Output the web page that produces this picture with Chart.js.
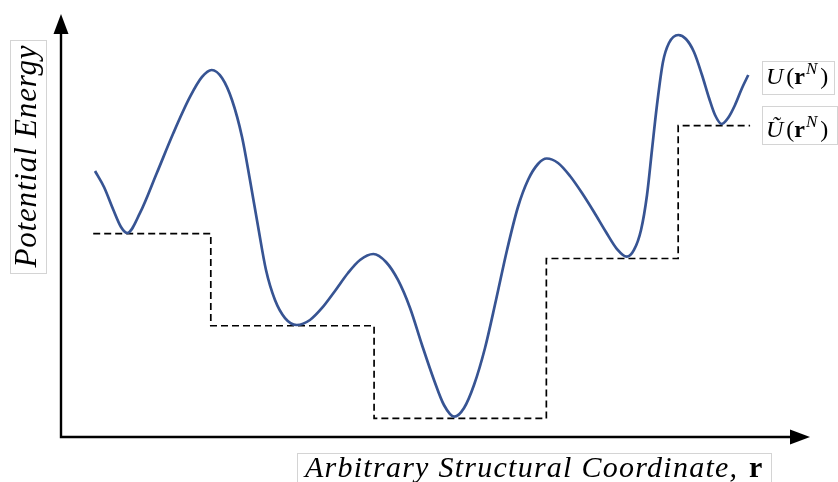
<!DOCTYPE html>
<html>
<head>
<meta charset="utf-8">
<script src="https://cdn.jsdelivr.net/npm/chart.js@4/dist/chart.umd.min.js"></script>
<style>
  html, body { margin: 0; padding: 0; background: #ffffff; }
  #wrap { width: 838px; height: 482px; }
</style>
</head>
<body>
<div id="wrap"><canvas id="pes" width="838" height="482"></canvas></div>
<script>
// Potential energy U(r^N) along an arbitrary structural coordinate
const curveX = [0.454, 0.574, 0.694, 0.801, 0.885,
                1.055, 1.278, 1.499, 1.722, 1.883, 2.012,
                2.150, 2.283, 2.417, 2.523, 2.630, 2.737, 2.857, 2.991, 3.147,
                3.324, 3.485, 3.658, 3.832, 3.992, 4.170,
                4.339, 4.499, 4.660, 4.820, 4.980, 5.113, 5.251,
                5.381, 5.514, 5.661, 5.808, 5.955, 6.101, 6.235, 6.368, 6.485,
                6.636, 6.796, 6.956, 7.116, 7.276, 7.423, 7.553,
                7.650, 7.744, 7.824, 7.890, 7.957, 8.037, 8.117, 8.242,
                8.344, 8.451, 8.558, 8.652, 8.732, 8.821,
                8.906, 8.999, 9.093, 9.176];
const curveY = [6.288, 5.910, 5.390, 4.965, 4.823,
                5.296, 6.234, 7.180, 8.038, 8.511, 8.676,
                8.487, 7.967, 7.092, 6.076, 4.988, 3.948, 3.239, 2.813, 2.648,
                2.766, 3.050, 3.452, 3.877, 4.184, 4.326,
                4.137, 3.712, 3.050, 2.175, 1.348, 0.757, 0.480,
                0.686, 1.229, 2.104, 3.239, 4.421, 5.437, 6.076, 6.454, 6.584,
                6.478, 6.170, 5.768, 5.319, 4.846, 4.444, 4.262,
                4.421, 4.894, 5.721, 6.785, 7.849, 8.865, 9.314, 9.504,
                9.409, 9.102, 8.558, 8.014, 7.612, 7.400,
                7.541, 7.849, 8.251, 8.558];

// Coarse-grained landscape: each basin flattened to its minimum energy
const stepX = [0.43, 2.00, 4.18, 6.48, 8.24, 9.20];
const stepY = [4.81, 2.63, 0.44, 4.22, 7.36, 7.36];

const axisMax = { x: 10, y: 10 };
const xTitle = 'Arbitrary Structural Coordinate,';
const xTitleVector = 'r';
const yTitle = 'Potential Energy';

const SERIF = '"Liberation Serif", "DejaVu Serif", serif';
const BOX = '#d4d4d4';

function pts(xs, ys) { return xs.map((x, i) => ({ x: x, y: ys[i] })); }

// Draw text with letter spacing adjusted so it spans a given width
function spacedText(ctx, text, x, y, width) {
  ctx.letterSpacing = '0px';
  const w = ctx.measureText(text).width;
  const sp = (width - w) / Math.max(1, text.length - 1);
  ctx.letterSpacing = sp.toFixed(2) + 'px';
  ctx.fillText(text, x, y);
  ctx.letterSpacing = '0px';
}

// Math-style label: U(r^N) with optional tilde on U
function mathLabel(ctx, x, y, size, tilde) {
  const parts = [
    { t: tilde ? 'Ũ' : 'U', f: 'italic ' + size + 'px ' + SERIF, dy: 0, gap: 3 },
    { t: '(', f: size + 'px ' + SERIF, dy: 0, gap: 0 },
    { t: 'r', f: 'bold ' + size + 'px ' + SERIF, dy: 0, gap: 1 },
    { t: 'N', f: 'italic ' + Math.round(size * 0.7) + 'px ' + SERIF, dy: -size * 0.42, gap: 3 },
    { t: ')', f: size + 'px ' + SERIF, dy: 0, gap: 0 }
  ];
  let cx = x;
  ctx.textBaseline = 'alphabetic';
  ctx.textAlign = 'left';
  parts.forEach(p => {
    ctx.font = p.f;
    ctx.fillText(p.t, cx, y + p.dy);
    cx += ctx.measureText(p.t).width + p.gap;
  });
  return cx - x;
}

const decorations = {
  id: 'decorations',
  beforeDatasetsDraw(chart) {
    const ctx = chart.ctx;
    const xs = chart.scales.x, ys = chart.scales.y;
    const ox = xs.getPixelForValue(0), oy = ys.getPixelForValue(0);
    const tx = xs.getPixelForValue(axisMax.x), ty = ys.getPixelForValue(axisMax.y);
    ctx.save();
    ctx.strokeStyle = '#000';
    ctx.fillStyle = '#000';
    ctx.lineWidth = 2.4;
    ctx.lineCap = 'butt';
    ctx.beginPath();
    ctx.moveTo(ox, ty + 16);
    ctx.lineTo(ox, oy);
    ctx.lineTo(tx - 16, oy);
    ctx.stroke();
    // arrow heads
    ctx.beginPath();
    ctx.moveTo(ox, ty);
    ctx.lineTo(ox - 7.5, ty + 20);
    ctx.lineTo(ox + 7.5, ty + 20);
    ctx.closePath();
    ctx.fill();
    ctx.beginPath();
    ctx.moveTo(tx, oy);
    ctx.lineTo(tx - 20, oy - 7.5);
    ctx.lineTo(tx - 20, oy + 7.5);
    ctx.closePath();
    ctx.fill();
    ctx.restore();
  },
  afterDraw(chart) {
    const ctx = chart.ctx;
    const xs = chart.scales.x, ys = chart.scales.y;
    ctx.save();
    ctx.fillStyle = '#000';
    ctx.strokeStyle = BOX;
    ctx.lineWidth = 1;

    // y-axis title
    ctx.strokeRect(10.5, 40.5, 36, 233);
    ctx.save();
    ctx.translate(36, 156.5);
    ctx.rotate(-Math.PI / 2);
    ctx.font = 'italic 31px ' + SERIF;
    ctx.textAlign = 'left';
    ctx.textBaseline = 'alphabetic';
    spacedText(ctx, yTitle, -111, 0, 222);
    ctx.restore();

    // x-axis title
    ctx.strokeRect(297.5, 453.5, 474, 40);
    ctx.font = 'italic 30px ' + SERIF;
    ctx.textAlign = 'left';
    ctx.textBaseline = 'alphabetic';
    spacedText(ctx, xTitle, 305, 477, 432);
    ctx.font = 'bold 30px ' + SERIF;
    ctx.fillText(xTitleVector, 749, 477);

    // series labels at the ends of the two lines
    const endU = { x: xs.getPixelForValue(curveX[curveX.length - 1]), y: ys.getPixelForValue(curveY[curveY.length - 1]) };
    const endS = { x: xs.getPixelForValue(stepX[stepX.length - 1]), y: ys.getPixelForValue(stepY[stepY.length - 1]) };
    const lx = Math.round(endS.x) + 12;
    ctx.strokeRect(lx + 0.5, Math.round(endU.y) - 13.5, 72, 33);
    mathLabel(ctx, lx + 4, endU.y + 9, 24, false);
    ctx.strokeRect(lx + 0.5, Math.round(endS.y) - 19.5, 75, 38);
    mathLabel(ctx, lx + 4, endS.y + 11, 24, true);
    ctx.restore();
  }
};

new Chart(document.getElementById('pes'), {
  type: 'line',
  data: {
    datasets: [
      {
        label: 'U(r^N)',
        data: pts(curveX, curveY),
        borderColor: '#375493',
        borderWidth: 2.7,
        pointRadius: 0,
        cubicInterpolationMode: 'monotone',
        fill: false
      },
      {
        label: 'Ũ(r^N)',
        data: pts(stepX, stepY),
        borderColor: '#000000',
        borderWidth: 1.7,
        borderDash: [7, 4],
        pointRadius: 0,
        stepped: 'before',
        fill: false
      }
    ]
  },
  options: {
    responsive: false,
    animation: false,
    clip: false,
    layout: { padding: { left: 61, right: 28, top: 14, bottom: 45 } },
    scales: {
      x: { type: 'linear', min: 0, max: axisMax.x, display: false },
      y: { type: 'linear', min: 0, max: axisMax.y, display: false }
    },
    plugins: { legend: { display: false }, tooltip: { enabled: false } }
  },
  plugins: [decorations]
});
</script>
</body>
</html>
